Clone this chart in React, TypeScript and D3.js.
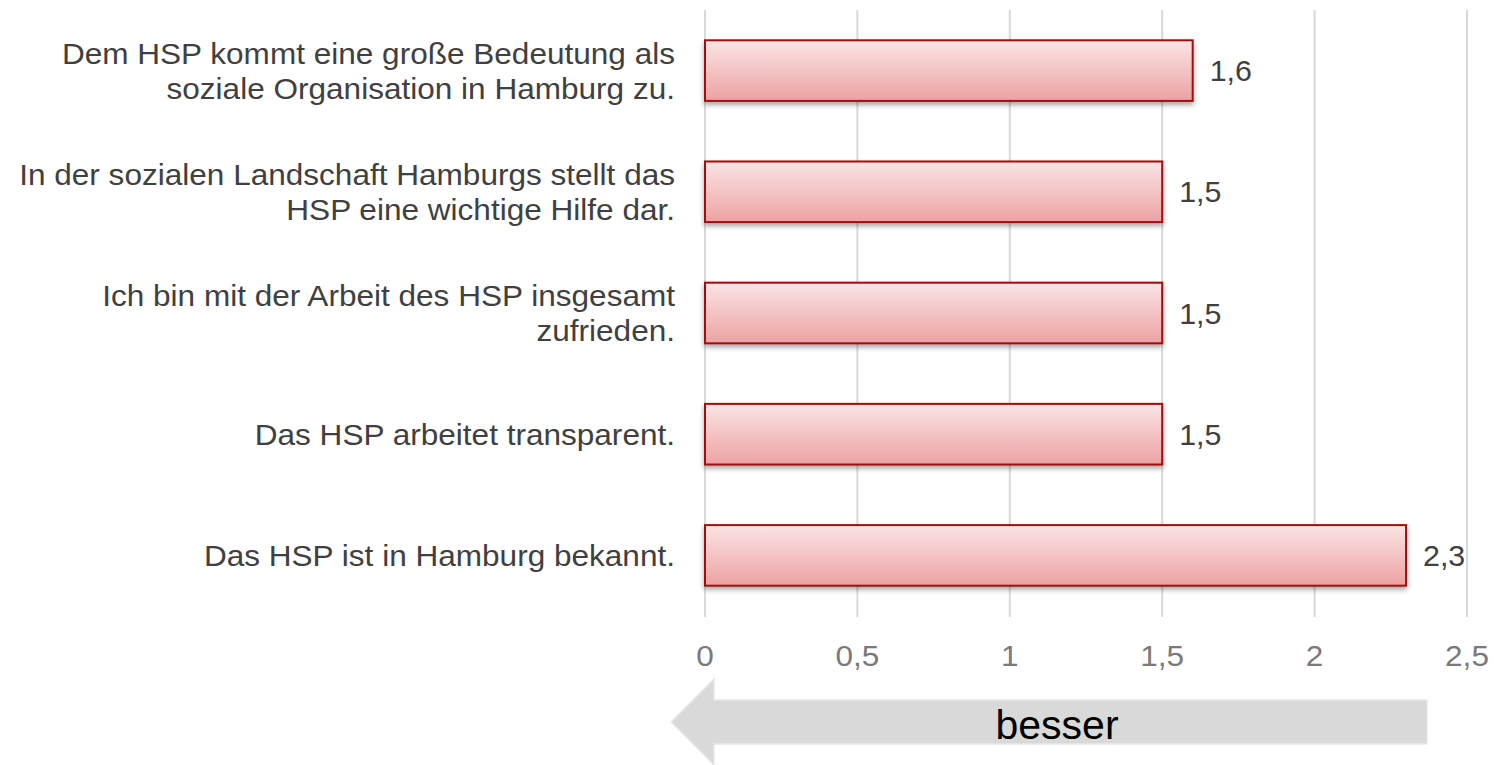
import React from "react";
import * as d3 from "d3";

const categories = [
  ["Dem HSP kommt eine große Bedeutung als", "soziale Organisation in Hamburg zu."],
  ["In der sozialen Landschaft Hamburgs stellt das", "HSP eine wichtige Hilfe dar."],
  ["Ich bin mit der Arbeit des HSP insgesamt", "zufrieden."],
  ["Das HSP arbeitet transparent."],
  ["Das HSP ist in Hamburg bekannt."],
];
const values = [1.6, 1.5, 1.5, 1.5, 2.3];
const ticks = [0, 0.5, 1, 1.5, 2, 2.5];

const W = 1505;
const H = 765;
const font = "'Liberation Sans', Arial, sans-serif";
const fmt = (v: number) => String(v).replace(".", ",");

// text slightly stretched horizontally around its anchor point
function Label(props: {
  x: number;
  y: number;
  anchor: "start" | "middle" | "end";
  size: number;
  fill: string;
  sx?: number;
  children: React.ReactNode;
}) {
  return (
    <g transform={`translate(${props.x},${props.y}) scale(${props.sx ?? 1.07},1)`}>
      <text
        textAnchor={props.anchor}
        fontFamily={font}
        fontSize={props.size}
        fill={props.fill}
      >
        {props.children}
      </text>
    </g>
  );
}

export default function App() {
  const x = d3.scaleLinear().domain([0, 2.5]).range([705, 1467]);
  const y = d3
    .scaleBand<number>()
    .domain(d3.range(categories.length))
    .range([10, 616])
    .paddingInner(0.5)
    .paddingOuter(0.25);

  // arrow "besser" below the axis
  const arrow = [
    [671, 722],
    [714, 679],
    [714, 700],
    [1427, 700],
    [1427, 744],
    [714, 744],
    [714, 765],
  ];

  return (
    <svg width={W} height={H} style={{ position: "absolute", left: 0, top: 0 }}>
      <defs>
        <linearGradient id="barFill" x1="0" y1="0" x2="0" y2="1">
          <stop offset="0%" stopColor="#fbe4e5" />
          <stop offset="100%" stopColor="#eca2a3" />
        </linearGradient>
        <filter id="shadow" x="-5%" y="-20%" width="110%" height="160%">
          <feDropShadow dx="0" dy="3" stdDeviation="2.5" floodColor="#000" floodOpacity="0.35" />
        </filter>
      </defs>
      <rect width={W} height={H} fill="#fff" />
      {ticks.map((t) => (
        <line key={t} x1={x(t)} x2={x(t)} y1={10} y2={617} stroke="#d9d9d9" strokeWidth={2} />
      ))}
      {ticks.map((t) => (
        <Label key={"l" + t} x={x(t)} y={666} anchor="middle" size={29.5} fill="#7a7a7a">
          {fmt(t)}
        </Label>
      ))}
      {values.map((v, i) => {
        const y0 = y(i)!;
        const bw = y.bandwidth();
        const n = categories[i].length;
        return (
          <g key={i}>
            <rect
              x={x(0)}
              y={y0}
              width={x(v) - x(0)}
              height={bw}
              fill="url(#barFill)"
              stroke="#a30d0d"
              strokeWidth={2}
              filter="url(#shadow)"
            />
            <Label x={x(v) + 17} y={y0 + bw / 2 + 10.5} anchor="start" size={29.5} fill="#404040" sx={1.03}>
              {fmt(v)}
            </Label>
            {categories[i].map((line, j) => (
              <Label
                key={j}
                x={675}
                y={y0 + bw / 2 + (j - (n - 1) / 2) * 35 + 10.5}
                anchor="end"
                size={29.5}
                fill="#404040"
              >
                {line}
              </Label>
            ))}
          </g>
        );
      })}
      <polygon
        points={arrow.map((p) => p.join(",")).join(" ")}
        fill="#d9d9d9"
        stroke="#e8e8e8"
        strokeWidth={1.5}
      />
      <Label x={1057} y={739} anchor="middle" size={41} fill="#000" sx={1}>
        besser
      </Label>
    </svg>
  );
}
